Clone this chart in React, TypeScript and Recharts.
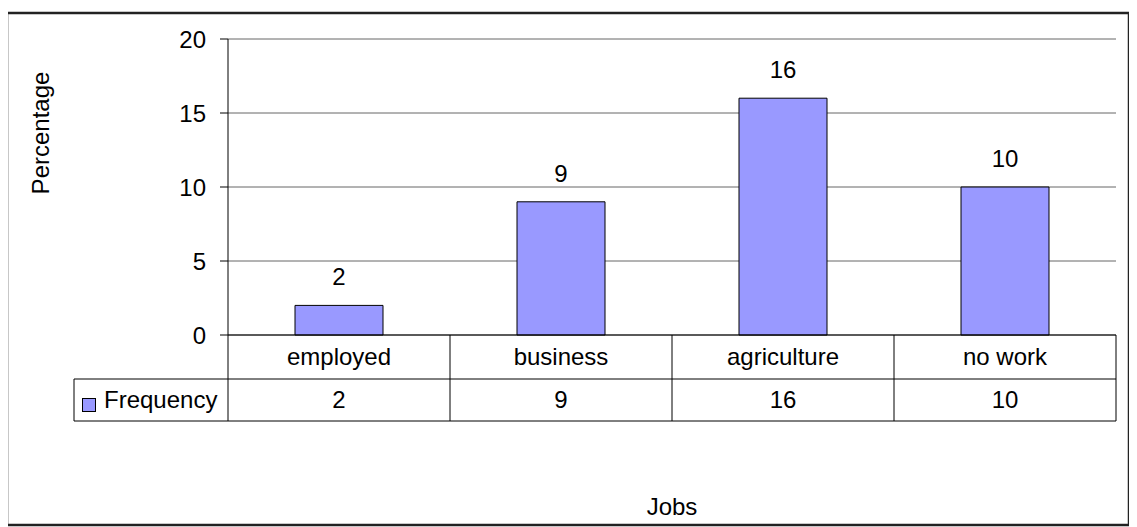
import { Bar, BarChart, CartesianGrid, LabelList, XAxis, YAxis } from "recharts";

const categories = ["employed", "business", "agriculture", "no work"];
const frequency = [2, 9, 16, 10];
const yTicks = [0, 5, 10, 15, 20];
const seriesName = "Frequency";
const xTitle = "Jobs";
const yTitle = "Percentage";

const data = categories.map((job, i) => ({ job, frequency: frequency[i] }));

const FONT = "'Liberation Sans', Arial, sans-serif";
const FS = 24;
const BAR_FILL = "#9999FF";
const LINE = "#000";
const W = 1137;
const H = 527;

// x axis ticks double as the data table under the plot
function TableTick(props: any) {
  const { x, y, width, index, payload } = props;
  const half = width / categories.length / 2;
  const row1 = 44;
  const row2 = 42;
  const left = x - half;
  const right = x + half;
  const legendLeft = 74;
  return (
    <g>
      <text x={x} y={y + row1 / 2 + 8} textAnchor="middle" fontSize={FS} fill="#000" fontFamily={FONT}>
        {payload.value}
      </text>
      <text x={x} y={y + row1 + row2 / 2 + 8} textAnchor="middle" fontSize={FS} fill="#000" fontFamily={FONT}>
        {frequency[index]}
      </text>
      <line x1={right} x2={right} y1={y} y2={y + row1 + row2} stroke={LINE} />
      <line x1={left} x2={right} y1={y + row1} y2={y + row1} stroke={LINE} />
      <line x1={left} x2={right} y1={y + row1 + row2} y2={y + row1 + row2} stroke={LINE} />
      {index === 0 && (
        <g>
          <line x1={left} x2={left} y1={y} y2={y + row1 + row2} stroke={LINE} />
          <line x1={legendLeft} x2={legendLeft} y1={y + row1} y2={y + row1 + row2} stroke={LINE} />
          <line x1={legendLeft} x2={left} y1={y + row1} y2={y + row1} stroke={LINE} />
          <line x1={legendLeft} x2={left} y1={y + row1 + row2} y2={y + row1 + row2} stroke={LINE} />
          <rect x={82.5} y={y + row1 + 19.5} width={13} height={13} fill={BAR_FILL} stroke="#000" />
          <text x={104} y={y + row1 + row2 / 2 + 8} fontSize={FS} fill="#000" fontFamily={FONT}>
            {seriesName}
          </text>
        </g>
      )}
    </g>
  );
}

// y title plus the outer chart frame, drawn inside the chart svg
function YTitleAndFrame() {
  return (
    <g>
      <rect x={7} y={13} width={W - 15} height={H - 15} fill="none" stroke="#222" strokeWidth={2.5} />
      <text
        x={49}
        y={133}
        transform="rotate(-90 49 133)"
        textAnchor="middle"
        fontSize={FS}
        fill="#000"
        fontFamily={FONT}
      >
        {yTitle}
      </text>
    </g>
  );
}

export default function App() {
  return (
    <div style={{ width: W, height: H, margin: "-8px 0 0 -8px", background: "#fff" }}>
      <BarChart
        width={W}
        height={H}
        data={data}
        margin={{ top: 39, right: 21, left: 168, bottom: 102 }}
        style={{ fontFamily: FONT }}
      >
        <CartesianGrid vertical={false} stroke="#000" strokeOpacity={0.6} />
        <XAxis
          dataKey="job"
          height={90}
          axisLine={{ stroke: "#000" }}
          tickLine={false}
          tickSize={0}
          tickMargin={0}
          interval={0}
          tick={<TableTick />}
          label={{ value: xTitle, position: "bottom", offset: 73, fontSize: FS, fill: "#000", fontFamily: FONT }}
        />
        <YAxis
          width={60}
          domain={[0, 20]}
          ticks={yTicks}
          interval={0}
          axisLine={{ stroke: "#000" }}
          tickLine={{ stroke: "#000" }}
          tickSize={8}
          tickMargin={14}
          tick={{ fill: "#000", fontSize: FS, fontFamily: FONT }}
          label={{ content: () => <YTitleAndFrame /> }}
        />
        <YAxis
          yAxisId="frame"
          orientation="right"
          width={0}
          domain={[0, 20]}
          tick={false}
          tickLine={false}
          axisLine={{ stroke: "#808080" }}
        />
        <Bar
          dataKey="frequency"
          name={seriesName}
          fill={BAR_FILL}
          stroke="#000"
          strokeWidth={1}
          barSize={88}
          isAnimationActive={false}
        >
          <LabelList dataKey="frequency" position="top" offset={20} fontSize={FS} fill="#000" fontFamily={FONT} />
        </Bar>
      </BarChart>
    </div>
  );
}
